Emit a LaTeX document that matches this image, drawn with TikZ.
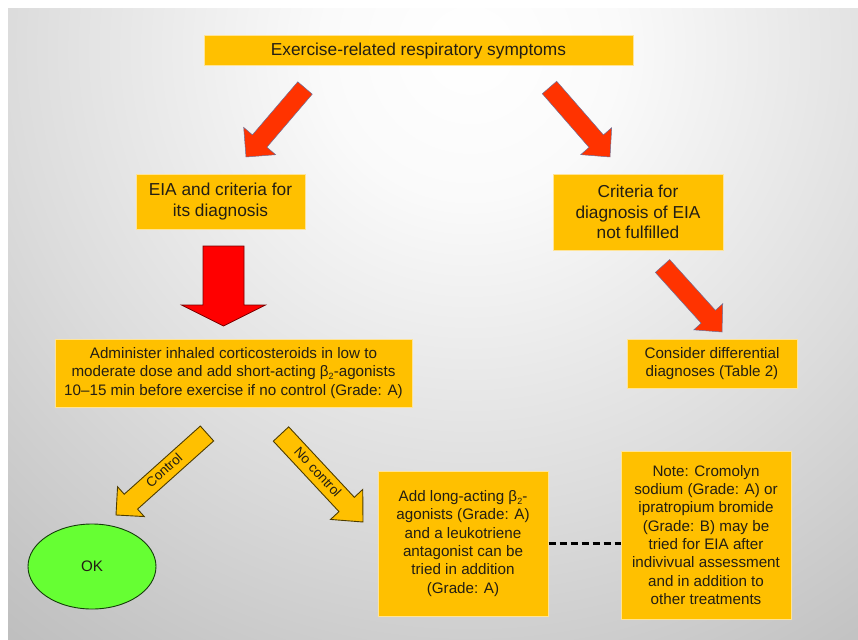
\documentclass[tikz,border=0pt]{standalone}
\usepackage{fontspec}
\setmainfont{Liberation Sans}
\usetikzlibrary{calc,shapes.geometric}
\definecolor{boxfill}{RGB}{255,192,0}
\definecolor{boxline}{RGB}{255,228,150}
\definecolor{txt}{RGB}{35,30,20}
\definecolor{redor}{RGB}{255,51,0}
\definecolor{redorline}{RGB}{110,110,150}
\definecolor{bigred}{RGB}{255,0,0}
\definecolor{bigredline}{RGB}{120,0,0}
\definecolor{ctrlline}{RGB}{77,60,0}
\definecolor{okgreen}{RGB}{102,255,51}
\definecolor{okline}{RGB}{20,60,10}
\definecolor{bgA}{RGB}{255,255,255}
\definecolor{bgB}{RGB}{250,250,250}
\definecolor{bgC}{RGB}{220,220,220}
\definecolor{bgD}{RGB}{196,196,196}
\definecolor{bgE}{RGB}{178,178,178}
\definecolor{bgF}{RGB}{165,165,165}
\definecolor{bgG}{RGB}{145,145,145}
\pgfdeclareradialshading{bgshade}{\pgfpointorigin}{color(0bp)=(bgA); color(4.5bp)=(bgB); color(14bp)=(bgC); color(21bp)=(bgD); color(27bp)=(bgE); color(35bp)=(bgF); color(50bp)=(bgG)}
\newcommand\fbig{\fontsize{17.3}{20.6}\selectfont}
\newcommand\fsmall{\fontsize{15.2}{18.3}\selectfont}
\newcommand\fctrl{\fontsize{13.5}{15}\selectfont}
\newcommand\subtwo{\raisebox{-0.35ex}{\fontsize{9}{9}\selectfont 2}}
% #1 style, #2 tail, #3 tip, #4 shaft half width, #5 head half width, #6 head length
\newcommand\myblockarrow[6]{%
  \coordinate (hb) at ($(#3)!#6!(#2)$);
  \path[#1] ($(#2)!#4!90:(#3)$) -- ($(hb)!#4!90:(#3)$) -- ($(hb)!#5!90:(#3)$)
    -- (#3) -- ($(hb)!#5!-90:(#3)$) -- ($(hb)!#4!-90:(#3)$) -- ($(#2)!#4!-90:(#3)$) -- cycle;
}
\tikzset{
  box/.style={draw=boxline, line width=1pt, fill=boxfill, text=txt, align=center, inner sep=0pt},
  orarrow/.style={fill=redor, draw=redorline, line width=0.5pt},
  redarrow/.style={fill=bigred, draw=bigredline, line width=0.8pt},
  ctrlarrow/.style={fill=boxfill, draw=ctrlline, line width=0.9pt},
  arrowtext/.style={text=txt, font=\fctrl, inner sep=0pt}
}
\begin{document}
\begin{tikzpicture}[x=1pt,y=-1pt]
\useasboundingbox (0,0) rectangle (858,639);
\fill[white] (0,0) rectangle (858,639);
\begin{scope}
  \clip (8,9) rectangle (858,639);
  \shade[shading=bgshade] (470,50) circle[radius=820pt];
\end{scope}

% boxes
\node[box, font=\fbig, minimum width=429pt, minimum height=30pt] (top) at (418.5,51) {Exercise-related respiratory symptoms};
\node[box, font=\fbig, minimum width=169pt, minimum height=55pt] (eia) at (220.5,201.5) {EIA and criteria for\\its diagnosis};
\node[box, font=\fbig, minimum width=170pt, minimum height=76pt] (crit) at (638,212) {Criteria for\\diagnosis of EIA\\not fulfilled};
\node[box, font=\fsmall, minimum width=357pt, minimum height=68pt] (adm) at (233.5,373) {Administer inhaled corticosteroids in low to\\moderate dose and add short-acting β\subtwo-agonists\\10–15 min before exercise if no control (Grade: A)};
\node[box, font=\fsmall, minimum width=170pt, minimum height=49pt] (cons) at (712,363.5) {Consider differential\\diagnoses (Table 2)};
\node[box, font=\fsmall, minimum width=170pt, minimum height=145pt] (add) at (463,543.5) {Add long-acting β\subtwo-\\agonists (Grade: A)\\and a leukotriene\\antagonist can be\\tried in addition\\(Grade: A)};
\node[box, font=\fsmall, minimum width=170pt, minimum height=168pt] (note) at (706,535) {Note: Cromolyn\\sodium (Grade: A) or\\ipratropium bromide\\(Grade: B) may be\\tried for EIA after\\indivivual assessment\\and in addition to\\other treatments};
\node[ellipse, draw=okline, line width=0.9pt, fill=okgreen, text=txt, font=\fsmall, minimum width=128pt, minimum height=85pt, inner sep=0pt] (ok) at (92,566.5) {OK};

% arrow end points
\coordinate (a1t) at (305,88);   \coordinate (a1p) at (246,157);
\coordinate (a2t) at (549.5,87.5); \coordinate (a2p) at (610,157);
\coordinate (a3t) at (223.5,246); \coordinate (a3p) at (223.5,326);
\coordinate (a4t) at (662.5,266); \coordinate (a4p) at (722,332);
\coordinate (c1t) at (207,433.5); \coordinate (c1p) at (116,515);
\coordinate (c2t) at (281,434);   \coordinate (c2p) at (363,522);

\myblockarrow{orarrow}{a1t}{a1p}{9.5pt}{21pt}{21pt}
\myblockarrow{orarrow}{a2t}{a2p}{9.5pt}{20.5pt}{21pt}
\myblockarrow{redarrow}{a3t}{a3p}{20.5pt}{42pt}{21pt}
\myblockarrow{orarrow}{a4t}{a4p}{9.6pt}{19.5pt}{20.5pt}
\myblockarrow{ctrlarrow}{c1t}{c1p}{10pt}{20pt}{20pt}
\myblockarrow{ctrlarrow}{c2t}{c2p}{10.5pt}{22pt}{24pt}

\node[arrowtext, rotate=42] (ctl) at (164,470) {Control};
\node[arrowtext, rotate=-47] (nctl) at (318,472) {No control};

% dashed connector
\draw[black, line width=2.2pt, dash pattern=on 7pt off 4pt] (add.east) -- (add.east -| note.west);
\end{tikzpicture}
\end{document}
